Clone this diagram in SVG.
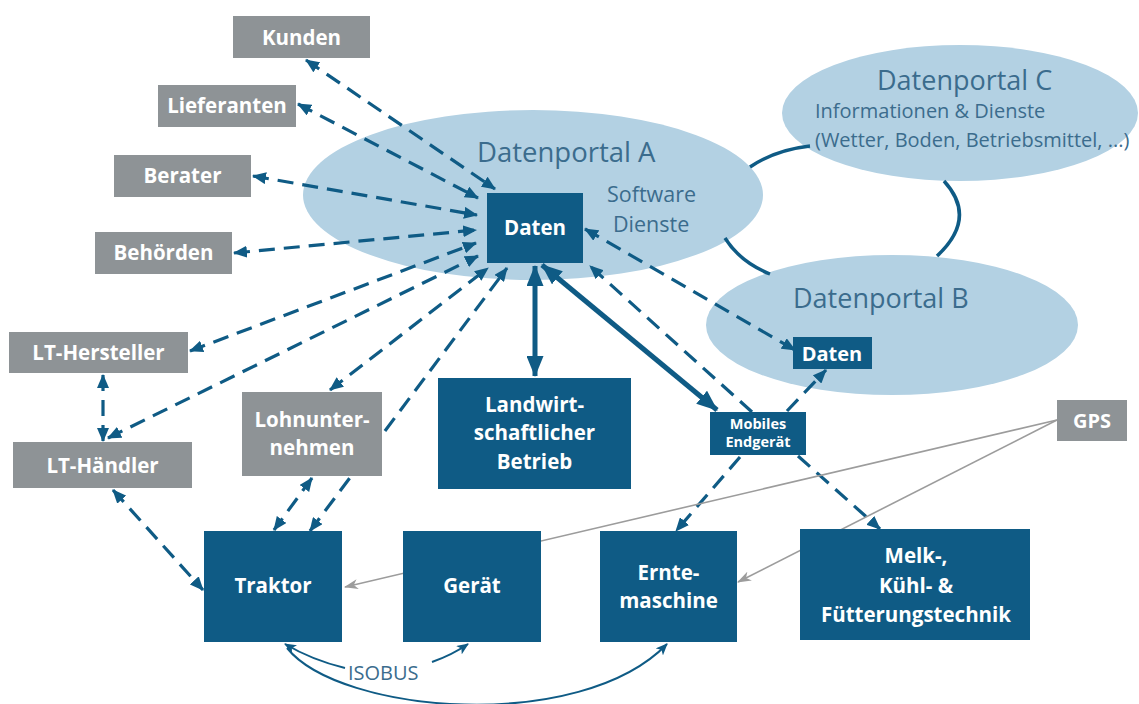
<svg xmlns="http://www.w3.org/2000/svg" width="1139" height="704" viewBox="0 0 1139 704">
<style>
.bg{fill:#ffffff}
.portal{fill:#b3d1e3}
.ptxt{fill:#3b6c8d;font-family:"Open Sans","Noto Sans",sans-serif}
.dark{fill:#0f5b85}
.gray{fill:#8e9396}
.lbl{fill:#ffffff;font-family:"Open Sans","Noto Sans",sans-serif;font-weight:700;text-anchor:middle}
.dash{fill:none;stroke:#0f5b85;stroke-width:3.2;stroke-dasharray:16 9}
.thick{fill:none;stroke:#0f5b85;stroke-width:5}
.link{fill:none;stroke:#0f5b85;stroke-width:3.5}
.bus{fill:none;stroke:#0f5b85;stroke-width:2}
.gps{fill:none;stroke:#9c9c9c;stroke-width:1.6}
</style>
<defs>
<marker id="ah" viewBox="0 0 14 12" refX="13" refY="6" markerWidth="14" markerHeight="12" markerUnits="userSpaceOnUse" orient="auto-start-reverse"><path d="M0,0 L14,6 L0,12 z" fill="#0f5b85"/></marker>
<marker id="ahb" viewBox="0 0 21 17" refX="20" refY="8.5" markerWidth="21" markerHeight="17" markerUnits="userSpaceOnUse" orient="auto-start-reverse"><path d="M0,0 L21,8.5 L0,17 z" fill="#0f5b85"/></marker>
<marker id="ahs" viewBox="0 0 12 10" refX="11" refY="5" markerWidth="12" markerHeight="10" markerUnits="userSpaceOnUse" orient="auto-start-reverse"><path d="M0,0 L12,5 L0,10 L3,5 z" fill="#0f5b85"/></marker>
<marker id="ahg" viewBox="0 0 14 10" refX="13" refY="5" markerWidth="14" markerHeight="10" markerUnits="userSpaceOnUse" orient="auto"><path d="M0,0 L14,5 L0,10 L4,5 z" fill="#9c9c9c"/></marker>
</defs>
<rect class="bg" x="0" y="0" width="1139" height="704"/>

<g id="portal-c">
<ellipse class="portal" cx="960" cy="113" rx="178" ry="68"/>
<text class="ptxt" x="877" y="90" font-size="27">Datenportal C</text>
<text class="ptxt" x="815" y="118" font-size="20">Informationen &amp; Dienste</text>
<text class="ptxt" x="815" y="147" font-size="20">(Wetter, Boden, Betriebsmittel, ...)</text>
</g>
<g id="portal-b">
<ellipse class="portal" cx="892" cy="325" rx="186" ry="70"/>
<text class="ptxt" x="793" y="308" font-size="27">Datenportal B</text>
</g>
<g id="portal-a">
<ellipse class="portal" cx="533" cy="195" rx="230" ry="85"/>
<text class="ptxt" x="477" y="162" font-size="27.5">Datenportal A</text>
<text class="ptxt" x="607" y="202" font-size="21.5">Software</text>
<text class="ptxt" x="613" y="232" font-size="21.5">Dienste</text>
</g>

<g id="connectors">
<path class="link" d="M750 167 Q775 150 810 146"/>
<path class="link" d="M725 238 Q740 262 770 274"/>
<path class="link" d="M944 181 Q978 218 937 256"/>

<path class="dash" d="M306 60 L495 189" marker-start="url(#ah)" marker-end="url(#ah)"/>
<path class="dash" d="M298 104 L478 198" marker-start="url(#ah)" marker-end="url(#ah)"/>
<path class="dash" d="M253 176 L477 215" marker-start="url(#ah)" marker-end="url(#ah)"/>
<path class="dash" d="M234 253 L476 230" marker-start="url(#ah)" marker-end="url(#ah)"/>
<path class="dash" d="M190 351 L476 243" marker-start="url(#ah)" marker-end="url(#ah)"/>
<path class="dash" d="M108 438 L478 256" marker-start="url(#ah)" marker-end="url(#ah)"/>
<path class="dash" d="M330 390 L488 268" marker-start="url(#ah)" marker-end="url(#ah)"/>
<path class="dash" d="M310 531 L507 268" marker-start="url(#ah)" marker-end="url(#ah)"/>

<path class="dash" d="M312 478 L274 530" marker-start="url(#ah)" marker-end="url(#ah)"/>
<path class="dash" d="M103 375 L103 441" marker-start="url(#ah)" marker-end="url(#ah)"/>
<path class="dash" d="M113 490 L203 590" marker-start="url(#ah)" marker-end="url(#ah)"/>

<path class="dash" d="M585 229 L795 350" marker-start="url(#ah)" marker-end="url(#ah)"/>
<path class="dash" d="M752 412 L590 266" marker-end="url(#ah)"/>
<path class="dash" d="M787 411 L826 370" marker-end="url(#ah)"/>
<path class="dash" d="M740 457 L676 531" marker-end="url(#ah)"/>
<path class="dash" d="M798 456 L880 529" marker-end="url(#ah)"/>

<path class="thick" d="M535 266 L535 376" marker-start="url(#ahb)" marker-end="url(#ahb)"/>
<path class="thick" d="M542 265 L717 410" marker-start="url(#ahb)" marker-end="url(#ahb)"/>

<path class="gps" d="M1057 420 L345 587" marker-end="url(#ahg)"/>
<path class="gps" d="M1057 420 L738 582" marker-end="url(#ahg)"/>

<path class="bus" d="M345 668 Q312 660 285 644" marker-end="url(#ahs)"/>
<path class="bus" d="M432 662 Q452 655 468 644" marker-end="url(#ahs)"/>
<path class="bus" d="M287 648 C340 714 580 734 667 644" marker-end="url(#ahs)"/>
<text class="ptxt" x="348" y="680" font-size="20">ISOBUS</text>
</g>

<g id="daten-a"><rect class="dark" x="487" y="193" width="96" height="70"/><text class="lbl" x="535" y="235" font-size="20.5">Daten</text></g>
<g id="daten-b"><rect class="dark" x="793" y="337" width="79" height="32"/><text class="lbl" x="832" y="361" font-size="20">Daten</text></g>
<g id="kunden"><rect class="gray" x="233" y="16" width="137" height="42"/><text class="lbl" x="301.5" y="45" font-size="20.5">Kunden</text></g>
<g id="lieferanten"><rect class="gray" x="158" y="85" width="138" height="42"/><text class="lbl" x="227" y="113" font-size="20.5">Lieferanten</text></g>
<g id="berater"><rect class="gray" x="114" y="155" width="137" height="42"/><text class="lbl" x="182.5" y="183" font-size="20.5">Berater</text></g>
<g id="behoerden"><rect class="gray" x="95" y="232" width="137" height="42"/><text class="lbl" x="163.5" y="260" font-size="20.5">Behörden</text></g>
<g id="lt-hersteller"><rect class="gray" x="9" y="332" width="179" height="41"/><text class="lbl" x="98.5" y="360" font-size="20.5">LT-Hersteller</text></g>
<g id="lt-haendler"><rect class="gray" x="13" y="442" width="179" height="46"/><text class="lbl" x="102.5" y="473" font-size="20.5">LT-Händler</text></g>
<g id="lohnunternehmen"><rect class="gray" x="242" y="392" width="140" height="84"/><text class="lbl" x="312" y="427" font-size="20.5">Lohnunter-</text><text class="lbl" x="312" y="455" font-size="20.5">nehmen</text></g>
<g id="gps"><rect class="gray" x="1057" y="400" width="70" height="41"/><text class="lbl" x="1092" y="428" font-size="20">GPS</text></g>
<g id="landwirt"><rect class="dark" x="438" y="378" width="193" height="111"/><text class="lbl" x="534.5" y="412" font-size="20.5">Landwirt-</text><text class="lbl" x="534.5" y="440" font-size="20.5">schaftlicher</text><text class="lbl" x="534.5" y="469" font-size="20.5">Betrieb</text></g>
<g id="mobiles"><rect class="dark" x="710" y="412" width="96" height="43"/><text class="lbl" x="758" y="429" font-size="14.5">Mobiles</text><text class="lbl" x="758" y="447" font-size="14.5">Endgerät</text></g>
<g id="traktor"><rect class="dark" x="204" y="531" width="138" height="111"/><text class="lbl" x="273" y="593" font-size="20.5">Traktor</text></g>
<g id="geraet"><rect class="dark" x="403" y="531" width="138" height="111"/><text class="lbl" x="472" y="593" font-size="20.5">Gerät</text></g>
<g id="erntemaschine"><rect class="dark" x="600" y="531" width="137" height="111"/><text class="lbl" x="668.5" y="580" font-size="20.5">Ernte-</text><text class="lbl" x="668.5" y="608" font-size="20.5">maschine</text></g>
<g id="melk"><rect class="dark" x="800" y="529" width="230" height="111"/><text class="lbl" x="916" y="563" font-size="20.5">Melk-,</text><text class="lbl" x="916" y="593" font-size="20.5">Kühl- &amp;</text><text class="lbl" x="916" y="622" font-size="20.5">Fütterungstechnik</text></g>
</svg>
